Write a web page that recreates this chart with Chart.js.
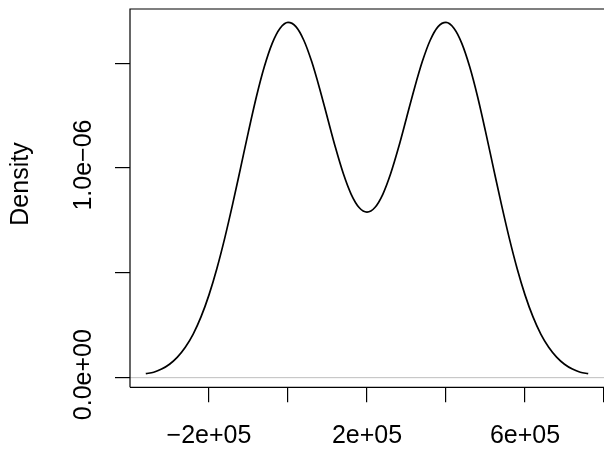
<!DOCTYPE html>
<html>
<head>
<meta charset="utf-8">
<script src="https://cdn.jsdelivr.net/npm/chart.js@4"></script>
<style>
  html, body { margin: 0; padding: 0; background: #fff; }
  #wrap { width: 604px; height: 449px; }
</style>
</head>
<body>
<div id="wrap"><canvas id="c" width="604" height="449"></canvas></div>
<script>
// density curve
const xs = [-360000, -340000, -320000, -300000, -280000, -260000, -240000, -220000, -200000, -180000,
  -160000, -140000, -120000, -100000, -80000, -60000, -40000, -20000, 0, 20000,
  40000, 60000, 80000, 100000, 120000, 140000, 160000, 180000, 200000, 220000,
  240000, 260000, 280000, 300000, 320000, 340000, 360000, 380000, 400000, 420000,
  440000, 460000, 480000, 500000, 520000, 540000, 560000, 580000, 600000, 620000,
  640000, 660000, 680000, 700000, 720000, 740000, 760000];
const dens = [0.019, 0.026, 0.041, 0.064, 0.098, 0.145, 0.208, 0.291, 0.395, 0.521,
  0.667, 0.829, 1.001, 1.175, 1.340, 1.483, 1.595, 1.667, 1.695, 1.675,
  1.610, 1.508, 1.380, 1.239, 1.099, 0.974, 0.875, 0.812, 0.790, 0.812,
  0.875, 0.974, 1.099, 1.239, 1.380, 1.508, 1.610, 1.675, 1.695, 1.667,
  1.595, 1.483, 1.340, 1.175, 1.001, 0.829, 0.667, 0.521, 0.395, 0.291,
  0.208, 0.145, 0.098, 0.064, 0.041, 0.026, 0.019]; // x 1e-6

const xTicks = [-200000, 0, 200000, 400000, 600000, 800000];
const xTickLabels = ['\u22122e+05', '', '2e+05', '', '6e+05', ''];
const yTicks = [0, 0.5e-6, 1.0e-6, 1.5e-6];
const yTickLabels = ['0.0e+00', '', '1.0e\u221206', ''];
const yTitle = 'Density';

const FONT = '"Liberation Sans", Arial, Helvetica, sans-serif';

const points = xs.map((x, i) => ({ x: x, y: dens[i] * 1e-6 }));

// box + rotated y labels, R style
const rStyle = {
  id: 'rStyle',
  afterDraw(chart) {
    const ctx = chart.ctx;
    const a = chart.chartArea;
    const ys = chart.scales.y;
    ctx.save();
    ctx.strokeStyle = '#000';
    ctx.lineWidth = 1.2;
    ctx.beginPath();
    ctx.moveTo(a.left, a.bottom);
    ctx.lineTo(a.left, a.top);
    ctx.lineTo(a.right + 2, a.top);
    ctx.moveTo(a.left, a.bottom);
    ctx.lineTo(a.right + 2, a.bottom);
    ctx.stroke();

    ctx.fillStyle = '#000';
    ctx.font = '25px ' + FONT;
    ctx.textAlign = 'center';
    ctx.textBaseline = 'alphabetic';
    yTicks.forEach((v, i) => {
      if (!yTickLabels[i]) return;
      ctx.save();
      ctx.translate(91, ys.getPixelForValue(v) - 3);
      ctx.rotate(-Math.PI / 2);
      ctx.fillText(yTickLabels[i], 0, 0);
      ctx.restore();
    });
    ctx.save();
    ctx.translate(28, 184);
    ctx.rotate(-Math.PI / 2);
    ctx.fillText(yTitle, 0, 0);
    ctx.restore();
    ctx.restore();
  }
};

new Chart(document.getElementById('c'), {
  type: 'scatter',
  data: {
    datasets: [
      {
        data: [{ x: -400000, y: 0 }, { x: 800000, y: 0 }],
        showLine: true,
        borderColor: '#bebebe',
        borderWidth: 1,
        pointRadius: 0
      },
      {
        data: points,
        showLine: true,
        borderColor: '#000',
        borderWidth: 1.7,
        pointRadius: 0,
        tension: 0.4,
        cubicInterpolationMode: 'monotone'
      }
    ]
  },
  options: {
    responsive: false,
    animation: false,
    events: [],
    layout: { padding: { left: 0, top: 9, right: 0, bottom: 0 } },
    plugins: { legend: { display: false }, tooltip: { enabled: false } },
    scales: {
      x: {
        type: 'linear',
        min: -400000,
        max: 800000,
        afterBuildTicks: s => { s.ticks = xTicks.map(v => ({ value: v })); },
        afterFit: s => { s.height = 61.7; s.paddingLeft = 0; s.paddingRight = 0; },
        grid: { drawOnChartArea: false, tickLength: 15, color: '#000', lineWidth: 1.2 },
        border: { display: false },
        ticks: {
          autoSkip: false,
          maxRotation: 0,
          padding: 19,
          color: '#000',
          font: { family: FONT, size: 25 },
          callback: (v) => xTickLabels[xTicks.indexOf(v)] || ''
        }
      },
      y: {
        type: 'linear',
        min: -0.046e-6,
        max: 1.759e-6,
        afterBuildTicks: s => { s.ticks = yTicks.map(v => ({ value: v })); },
        afterFit: s => { s.width = 130; s.paddingTop = 0; s.paddingBottom = 0; },
        grid: { drawOnChartArea: false, tickLength: 15, color: '#000', lineWidth: 1.2 },
        border: { display: false },
        ticks: { display: false }
      }
    }
  },
  plugins: [rStyle]
});
</script>
</body>
</html>
